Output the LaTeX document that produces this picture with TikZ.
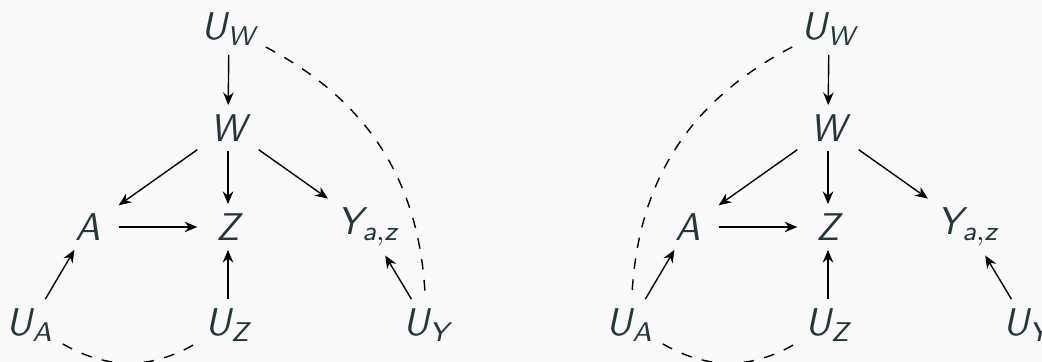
\documentclass[tikz,border=0pt]{standalone}
\usetikzlibrary{arrows.meta}
\DeclareMathAlphabet{\mathsfit}{TU}{lmss}{m}{sl}
\newcommand{\sv}[1]{\mathsfit{#1}}
\definecolor{slate}{HTML}{23373B}
\definecolor{paper}{HTML}{FAFAFA}

\begin{document}
\begin{tikzpicture}[
  var/.style={minimum width=0.6cm, minimum height=0.4cm, inner sep=0.25em, text=slate, font=\fontsize{11}{13}\selectfont},
  arr/.style={-{Stealth[length=3.6pt, width=3pt]}, black},
  conf/.style={dashed, black}
]
  \fill[paper] (0,0) rectangle (10.42,3.62);
  \useasboundingbox (0,0) rectangle (10.42,3.62);

  \node[var] (lUW) at (2.29,3.33) {$\sv{U}_{\sv{W}}$};
  \node[var] (lW) at (2.28,2.34) {$\sv{W}$};
  \node[var] (lA) at (0.88,1.35) {$\sv{A}$};
  \node[var] (lZ) at (2.28,1.35) {$\sv{Z}$};
  \node[var] (lY) at (3.68,1.35) {$\sv{Y}_{\sv{a,z}}$};
  \node[var] (lUA) at (0.30,0.37) {$\sv{U}_{\sv{A}}$};
  \node[var] (lUZ) at (2.28,0.37) {$\sv{U}_{\sv{Z}}$};
  \node[var] (lUY) at (4.27,0.37) {$\sv{U}_{\sv{Y}}$};
  \draw[arr] (lUW) -- (lW);
  \draw[arr] (lW) -- (lA);
  \draw[arr] (lW) -- (lZ);
  \draw[arr] (lW) -- (lY);
  \draw[arr] (lA) -- (lZ);
  \draw[arr] (lUA) -- (lA);
  \draw[arr] (lUZ) -- (lZ);
  \draw[arr] (lUY) -- (lY);
  \draw[conf] (lUW) to[bend left] (lUY);
  \draw[conf] (lUA) to[bend right] (lUZ);

  \node[var] (rUW) at (8.29,3.33) {$\sv{U}_{\sv{W}}$};
  \node[var] (rW) at (8.28,2.34) {$\sv{W}$};
  \node[var] (rA) at (6.88,1.35) {$\sv{A}$};
  \node[var] (rZ) at (8.28,1.35) {$\sv{Z}$};
  \node[var] (rY) at (9.68,1.35) {$\sv{Y}_{\sv{a,z}}$};
  \node[var] (rUA) at (6.30,0.37) {$\sv{U}_{\sv{A}}$};
  \node[var] (rUZ) at (8.28,0.37) {$\sv{U}_{\sv{Z}}$};
  \node[var] (rUY) at (10.27,0.37) {$\sv{U}_{\sv{Y}}$};
  \draw[arr] (rUW) -- (rW);
  \draw[arr] (rW) -- (rA);
  \draw[arr] (rW) -- (rZ);
  \draw[arr] (rW) -- (rY);
  \draw[arr] (rA) -- (rZ);
  \draw[arr] (rUA) -- (rA);
  \draw[arr] (rUZ) -- (rZ);
  \draw[arr] (rUY) -- (rY);
  \draw[conf] (rUW) to[bend right] (rUA);
  \draw[conf] (rUA) to[bend right] (rUZ);
\end{tikzpicture}
\end{document}
